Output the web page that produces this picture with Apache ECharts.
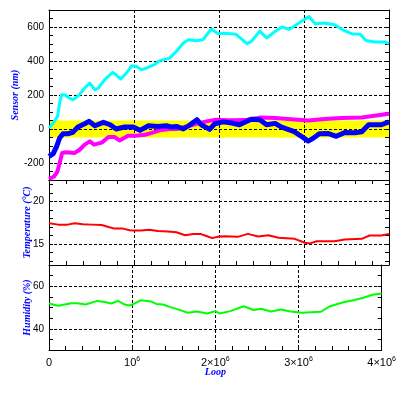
<!DOCTYPE html>
<html>
<head>
<meta charset="utf-8">
<script src="https://cdn.jsdelivr.net/npm/echarts@6/dist/echarts.min.js"></script>
<style>
  html, body { margin: 0; padding: 0; background: #fff; }
  #chartWrap { width: 399px; height: 399px; }
</style>
</head>
<body>
<div id="chartWrap"></div>
<script>
// loop axis values are in units of 10^6
var cyanX = [0, 0.05, 0.1, 0.125, 0.15, 0.19, 0.22, 0.28, 0.34, 0.42, 0.48, 0.54, 0.58, 0.655, 0.75, 0.79, 0.845, 0.91, 0.975, 1.03, 1.09, 1.15, 1.24, 1.3, 1.42, 1.5, 1.58, 1.64, 1.73, 1.81, 1.91, 1.99, 2.07, 2.2, 2.33, 2.38, 2.48, 2.56, 2.66, 2.74, 2.83, 2.93, 3.01, 3.06, 3.13, 3.24, 3.36, 3.46, 3.56, 3.66, 3.73, 3.83, 3.95, 4.0];
var cyanY = [5, 35, 74, 153, 202, 200, 188, 172, 192, 241, 270, 231, 241, 290, 333, 319, 294, 329, 372, 368, 349, 359, 378, 402, 417, 457, 506, 525, 519, 525, 588, 560, 563, 557, 502, 515, 576, 535, 574, 600, 586, 620, 645, 662, 619, 623, 613, 582, 561, 558, 521, 512, 512, 502];

var blueX = [0, 0.05, 0.09, 0.125, 0.165, 0.22, 0.28, 0.34, 0.42, 0.47, 0.54, 0.64, 0.72, 0.79, 0.89, 0.99, 1.07, 1.17, 1.28, 1.38, 1.44, 1.5, 1.58, 1.66, 1.74, 1.79, 1.89, 1.95, 2.05, 2.15, 2.24, 2.38, 2.48, 2.56, 2.66, 2.73, 2.81, 2.88, 2.96, 3.05, 3.1, 3.18, 3.28, 3.38, 3.48, 3.6, 3.68, 3.76, 3.83, 3.91, 4.0];
var blueY = [-161, -145, -102, -53, -28, -28, -20, 12, 31, 45, 19, 39, 25, 0, 12, 12, -8, 19, 15, 19, 12, 15, 0, 25, 55, 25, -2, 31, 42, 35, 25, 57, 54, 25, 33, 12, -2, -14, -40, -71, -57, -28, -26, -43, -20, -22, -16, 25, 25, 25, 42];

var magentaX = [0, 0.06, 0.1, 0.125, 0.155, 0.2, 0.3, 0.36, 0.42, 0.48, 0.53, 0.62, 0.7, 0.77, 0.83, 0.93, 1.03, 1.13, 1.2, 1.3, 1.42, 1.5, 1.62, 1.74, 1.85, 1.97, 2.09, 2.2, 2.33, 2.48, 2.66, 2.85, 3.05, 3.24, 3.44, 3.68, 3.83, 4.0];
var magentaY = [-294, -279, -249, -200, -141, -137, -141, -122, -92, -73, -92, -80, -47, -47, -67, -39, -39, -34, -24, -8, 0, 0, 15, 30, 45, 55, 52, 52, 55, 67, 65, 58, 50, 59, 65, 68, 78, 90];

var tempX = [0, 0.11, 0.22, 0.3, 0.4, 0.5, 0.62, 0.7, 0.77, 0.87, 0.95, 1.0, 1.08, 1.18, 1.28, 1.4, 1.5, 1.6, 1.7, 1.78, 1.86, 1.92, 2.0, 2.07, 2.22, 2.34, 2.46, 2.58, 2.7, 2.89, 3.01, 3.07, 3.15, 3.36, 3.48, 3.68, 3.77, 3.91, 4.0];
var tempY = [17.4, 17.25, 17.25, 17.4, 17.29, 17.25, 17.2, 16.98, 16.78, 16.78, 16.59, 16.55, 16.55, 16.66, 16.5, 16.43, 16.35, 16.0, 16.16, 16.16, 15.88, 15.66, 15.85, 15.88, 15.81, 16.16, 15.85, 16.0, 15.7, 15.58, 15.12, 15.04, 15.3, 15.3, 15.5, 15.58, 15.97, 15.97, 16.16];

var humX = [0, 0.11, 0.27, 0.34, 0.44, 0.58, 0.67, 0.75, 0.83, 0.91, 0.97, 1.02, 1.1, 1.23, 1.29, 1.37, 1.45, 1.55, 1.67, 1.78, 1.9, 2.0, 2.05, 2.18, 2.34, 2.46, 2.55, 2.67, 2.79, 2.9, 3.04, 3.27, 3.38, 3.54, 3.66, 3.78, 3.89, 4.0];
var humY = [51.9, 50.8, 52.0, 52.0, 51.4, 53.1, 52.6, 51.9, 53.1, 51.4, 50.95, 51.7, 53.4, 52.8, 51.7, 51.4, 50.3, 49.1, 47.5, 48.1, 47.2, 48.3, 47.2, 48.3, 50.6, 48.8, 49.4, 48.1, 49.1, 48.1, 47.5, 48.0, 50.6, 52.5, 53.4, 54.6, 56.0, 56.6];

// yellow tolerance band of the sensor panel
var bandRange = [-50, 50];

// tick label text for 0..4 x 10^6 (mantissa, exponent)
var loopMant = ['0', '10', '2\u00d710', '3\u00d710', '4\u00d710'];
var loopExp = ['', '6', '6', '6', '6'];

var SCALE = 1e6;

function pairs(xs, ys) {
  var out = [];
  for (var i = 0; i < xs.length; i++) {
    out.push([xs[i] * SCALE, ys[i]]);
  }
  return out;
}

var dotted = { color: '#000', width: 1, type: [3, 2] };
var nameStyle = { color: '#0000ff', fontStyle: 'italic', fontWeight: 'bold', fontFamily: 'Liberation Serif', fontSize: 10 };
var tickLabel = { color: '#000', fontFamily: 'Liberation Sans', fontSize: 10 };
var black = { color: '#000', width: 1 };

// axis that only carries grid lines (and labels)
function xMain(grid, withLabels) {
  return {
    type: 'value', gridIndex: grid, min: 0, max: 4 * SCALE, interval: SCALE, z: 3,
    axisLine: { show: false, onZero: false }, axisTick: { show: false },
    splitLine: { show: true, lineStyle: dotted },
    axisLabel: withLabels ? {
      margin: 6,
      formatter: function(v) {
        var i = Math.round(v / SCALE);
        return loopExp[i] ? '{m|' + loopMant[i] + '}{e|' + loopExp[i] + '}' : '{m|' + loopMant[i] + '}';
      },
      rich: {
        m: { color: '#000', fontFamily: 'Liberation Sans', fontSize: 11, lineHeight: 12, verticalAlign: 'bottom' },
        e: { color: '#000', fontFamily: 'Liberation Sans', fontSize: 7, lineHeight: 12, verticalAlign: 'top' }
      }
    } : { show: false },
    name: withLabels ? 'Loop' : '', nameLocation: 'middle', nameGap: 17, nameMoveOverlap: false,
    nameTextStyle: nameStyle
  };
}

// frame line plus the small inward ticks
function xTicks(grid, pos, ticks) {
  return {
    type: 'value', gridIndex: grid, position: pos, min: 0, max: 4 * SCALE, splitNumber: 20, z: 3,
    axisLine: { show: true, onZero: false, lineStyle: black },
    axisTick: { show: ticks, inside: true, length: 4, lineStyle: black },
    axisLabel: { show: false }, splitLine: { show: false }
  };
}

function yMain(grid, min, max, split, name, gap) {
  return {
    type: 'value', gridIndex: grid, min: min, max: max, splitNumber: split, z: 3,
    axisLine: { show: false, onZero: false }, axisTick: { show: false },
    splitLine: { show: true, lineStyle: dotted },
    axisLabel: Object.assign({ margin: 5, showMinLabel: false, showMaxLabel: false }, tickLabel),
    name: name, nameLocation: 'middle', nameGap: gap, nameMoveOverlap: false, nameTextStyle: nameStyle
  };
}

function yTicks(grid, pos, min, max, split) {
  return {
    type: 'value', gridIndex: grid, position: pos, min: min, max: max, splitNumber: split, z: 3,
    axisLine: { show: true, onZero: false, lineStyle: black },
    axisTick: { show: true, inside: true, length: 4, lineStyle: black },
    axisLabel: { show: false }, splitLine: { show: false }
  };
}

function line(name, xi, yi, data, color, width, z) {
  return {
    name: name, type: 'line', xAxisIndex: xi, yAxisIndex: yi, data: data,
    symbol: 'none', z: z, animation: false,
    lineStyle: { color: color, width: width, join: 'round' }
  };
}

var option = {
  backgroundColor: '#fff',
  animation: false,
  grid: [
    { left: 49, right: 10, top: 10, height: 170 },
    { left: 49, right: 10, top: 180, height: 85 },
    { left: 49, right: 10, top: 265, height: 85 }
  ],
  xAxis: [
    xMain(0, false),
    xMain(1, false),
    xMain(2, true),
    xTicks(0, 'top', false),
    xTicks(0, 'bottom', false),
    xTicks(1, 'top', true),
    xTicks(1, 'bottom', true),
    xTicks(2, 'bottom', true)
  ],
  yAxis: [
    yMain(0, -300, 700, 5, 'Sensor (nm)', 29),
    yMain(1, 12.5, 22.5, 2, 'Temperature (\u00b0C)', 17),
    yMain(2, 30, 70, 2, 'Humidity (%)', 17),
    yTicks(0, 'left', -300, 700, 20),
    yTicks(0, 'right', -300, 700, 20),
    yTicks(1, 'left', 12.5, 22.5, 10),
    yTicks(1, 'right', 12.5, 22.5, 10),
    yTicks(2, 'left', 30, 70, 8),
    yTicks(2, 'right', 30, 70, 8)
  ],
  series: [
    {
      name: 'band', type: 'line', xAxisIndex: 0, yAxisIndex: 0, data: [], z: -1,
      markArea: {
        silent: true, z: -1,
        itemStyle: { color: '#ffff00', opacity: 1 },
        data: [[{ xAxis: 0, yAxis: bandRange[0] }, { xAxis: 4 * SCALE, yAxis: bandRange[1] }]]
      }
    },
    line('magenta', 0, 0, pairs(magentaX, magentaY), '#ff00ff', 4, 4),
    line('blue', 0, 0, pairs(blueX, blueY), '#0000ff', 5, 5),
    line('cyan', 0, 0, pairs(cyanX, cyanY), '#00ffff', 3, 6),
    line('temperature', 1, 1, pairs(tempX, tempY), '#ff0000', 2, 4),
    line('humidity', 2, 2, pairs(humX, humY), '#00ff00', 2, 4)
  ]
};

var myChart = echarts.init(document.getElementById('chartWrap'));
myChart.setOption(option);
</script>
</body>
</html>
